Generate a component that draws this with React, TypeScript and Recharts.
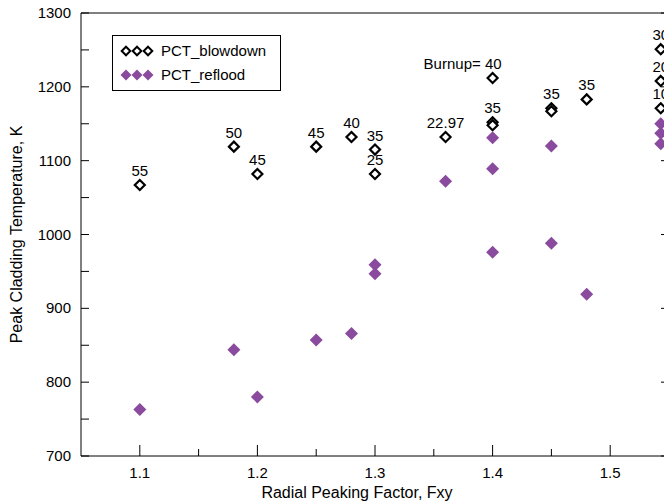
import React from 'react';
import { ScatterChart, Scatter, XAxis, YAxis, Legend, LabelList } from 'recharts';

// ---------- data ----------
const blowdownFxy = [1.1, 1.18, 1.2, 1.25, 1.28, 1.3, 1.3, 1.36, 1.4, 1.4, 1.4, 1.45, 1.45, 1.48, 1.543, 1.543, 1.543];
const blowdownPct = [1067, 1119, 1082, 1119, 1132, 1115, 1082, 1132, 1212, 1152, 1148, 1171, 1167, 1183, 1251, 1208, 1171];
const burnupLabels = ['55', '50', '45', '45', '40', '35', '25', '22.97', 'Burnup= 40', '35', '', '35', '', '35', '30', '20', '10'];

const refloodFxy = [1.1, 1.18, 1.2, 1.25, 1.28, 1.3, 1.3, 1.36, 1.4, 1.4, 1.4, 1.45, 1.45, 1.48, 1.543, 1.543, 1.543];
const refloodPct = [763, 844, 780, 857, 866, 959, 947, 1072, 1131, 1089, 976, 1120, 988, 919, 1150, 1137, 1123];

const xTicks = [1.1, 1.15, 1.2, 1.25, 1.3, 1.35, 1.4, 1.45, 1.5];
const xMajorTicks = [1.1, 1.2, 1.3, 1.4, 1.5];
const yTicks = [700, 750, 800, 850, 900, 950, 1000, 1050, 1100, 1150, 1200, 1250, 1300];
const yMajorTicks = [700, 800, 900, 1000, 1100, 1200, 1300];

const blowdownData = blowdownFxy.map((x, i) => ({ x, y: blowdownPct[i], label: burnupLabels[i] }));
const refloodData = refloodFxy.map((x, i) => ({ x, y: refloodPct[i] }));

// ---------- layout / style ----------
const FONT = '"Liberation Sans", Arial, Helvetica, sans-serif';
const FS = 15;
const TITLE_FS = 16;
const CHART_W = 700;
const CHART_H = 501;
const PLOT_L = 81;
const PLOT_T = 13;
const PLOT_R = 669;
const PLOT_B = 456;
const PURPLE = '#8a4a9e';

const isMajorX = (v: number) => xMajorTicks.some((t) => Math.abs(t - v) < 1e-6);
const isMajorY = (v: number) => yMajorTicks.some((t) => Math.abs(t - v) < 1e-6);

const openDiamond = (cx: number, cy: number, r: number, sw: number) => (
  <path
    d={`M${cx},${cy - r}L${cx + r},${cy}L${cx},${cy + r}L${cx - r},${cy}Z`}
    fill="#fff"
    stroke="#000"
    strokeWidth={sw}
  />
);
const filledDiamond = (cx: number, cy: number, r: number) => (
  <path d={`M${cx},${cy - r}L${cx + r},${cy}L${cx},${cy + r}L${cx - r},${cy}Z`} fill={PURPLE} stroke="none" />
);

const BlowdownShape = (props: any) => {
  const { cx, cy } = props;
  if (cx == null || cy == null) return <g />;
  return openDiamond(cx, cy, 5, 2.2);
};
const RefloodShape = (props: any) => {
  const { cx, cy } = props;
  if (cx == null || cy == null) return <g />;
  return filledDiamond(cx, cy, 6.5);
};

const renderPointLabel = (props: any) => {
  const { x, y, width, height, value } = props;
  if (!value) return null;
  const cx = x + (width || 0) / 2;
  const cy = y + (height || 0) / 2;
  const isBurnup = String(value).startsWith('Burnup');
  return (
    <text
      x={isBurnup ? cx + 9 : cx}
      y={cy - 9}
      textAnchor={isBurnup ? 'end' : 'middle'}
      fontFamily={FONT}
      fontSize={FS}
      fill="#000"
    >
      {value}
    </text>
  );
};

const BottomTick = (props: any) => {
  const { x, payload } = props;
  const v = payload.value as number;
  const major = isMajorX(v);
  return (
    <g>
      <line x1={x} x2={x} y1={PLOT_B} y2={PLOT_B - (major ? 11 : 7)} stroke="#000" strokeWidth={1} />
      {major && (
        <text x={x} y={PLOT_B + 22} textAnchor="middle" fontFamily={FONT} fontSize={FS} fill="#000">
          {v.toFixed(1)}
        </text>
      )}
    </g>
  );
};

const TopTick = (props: any) => {
  const { x } = props;
  return <line x1={x} x2={x} y1={PLOT_T} y2={PLOT_T + 9} stroke="#000" strokeWidth={1} />;
};

const LeftTick = (props: any) => {
  const { y, payload } = props;
  const v = payload.value as number;
  const major = isMajorY(v);
  return (
    <g>
      <line x1={PLOT_L} x2={PLOT_L + 8} y1={y} y2={y} stroke="#000" strokeWidth={1} />
      {major && (
        <text x={PLOT_L - 10} y={y + 5} textAnchor="end" fontFamily={FONT} fontSize={FS} fill="#000">
          {v}
        </text>
      )}
    </g>
  );
};

const RightTick = (props: any) => {
  const { y } = props;
  return <line x1={PLOT_R} x2={PLOT_R - 8} y1={y} y2={y} stroke="#000" strokeWidth={1} />;
};

const renderLegend = (props: any) => {
  const payload = props.payload || [];
  return (
    <div
      style={{
        border: '1px solid #000',
        background: '#fff',
        width: 169,
        height: 56,
        boxSizing: 'border-box',
        fontFamily: FONT,
        fontSize: FS,
        color: '#000',
        paddingTop: 3,
      }}
    >
      {payload.map((p: any, i: number) => {
        const open = p.value === 'PCT_blowdown';
        return (
          <div key={i} style={{ display: 'flex', alignItems: 'center', height: 24 }}>
            <svg width={48} height={16} style={{ display: 'block' }}>
              {[13, 24, 35].map((cx) =>
                open ? <g key={cx}>{openDiamond(cx, 8, 4.3, 2)}</g> : <g key={cx}>{filledDiamond(cx, 8, 5.5)}</g>
              )}
            </svg>
            <span style={{ lineHeight: '16px' }}>{p.value}</span>
          </div>
        );
      })}
    </div>
  );
};

export default function App() {
  return (
    <div style={{ width: 664, height: 501, overflow: 'hidden', position: 'relative' }}>
      <style>{'html,body{margin:0;padding:0;overflow:hidden;background:#fff;}'}</style>
      <ScatterChart width={CHART_W} height={CHART_H} margin={{ top: 12, right: 30, bottom: 0, left: 0 }}>
        <XAxis
          xAxisId="b"
          dataKey="x"
          type="number"
          domain={[1.05, 1.55]}
          ticks={xTicks}
          interval={0}
          height={45}
          tickLine={false}
          axisLine={{ stroke: '#000', strokeWidth: 1 }}
          tick={BottomTick}
          allowDataOverflow
          label={{
            value: 'Radial Peaking Factor, Fxy',
            position: 'insideBottom',
            offset: 3,
            dx: -18,
            style: { fontFamily: FONT, fontSize: TITLE_FS, fill: '#000' },
          }}
        />
        <XAxis
          xAxisId="t"
          orientation="top"
          type="number"
          domain={[1.05, 1.55]}
          ticks={xMajorTicks}
          interval={0}
          height={1}
          tickLine={false}
          axisLine={{ stroke: '#000', strokeWidth: 1 }}
          tick={TopTick}
          allowDataOverflow
        />
        <YAxis
          yAxisId="l"
          dataKey="y"
          type="number"
          domain={[700, 1300]}
          ticks={yTicks}
          interval={0}
          width={81}
          tickLine={false}
          axisLine={{ stroke: '#000', strokeWidth: 1 }}
          tick={LeftTick}
          allowDataOverflow
          label={{
            value: 'Peak Cladding Temperature, K',
            angle: -90,
            position: 'insideLeft',
            offset: 16,
            style: { textAnchor: 'middle', fontFamily: FONT, fontSize: TITLE_FS, fill: '#000' },
          }}
        />
        <YAxis
          yAxisId="r"
          orientation="right"
          type="number"
          domain={[700, 1300]}
          ticks={yMajorTicks}
          interval={0}
          width={1}
          tickLine={false}
          axisLine={{ stroke: '#000', strokeWidth: 1 }}
          tick={RightTick}
          allowDataOverflow
        />
        <Legend
          layout="vertical"
          align="center"
          verticalAlign="middle"
          content={renderLegend}
          wrapperStyle={{ left: 112, top: 35, width: 169, height: 56 }}
        />
        <Scatter
          name="PCT_blowdown"
          data={blowdownData}
          xAxisId="b"
          yAxisId="l"
          fill="#000"
          shape={BlowdownShape}
          isAnimationActive={false}
        >
          <LabelList dataKey="label" content={renderPointLabel} />
        </Scatter>
        <Scatter
          name="PCT_reflood"
          data={refloodData}
          xAxisId="b"
          yAxisId="l"
          fill={PURPLE}
          shape={RefloodShape}
          isAnimationActive={false}
        />
      </ScatterChart>
    </div>
  );
}
